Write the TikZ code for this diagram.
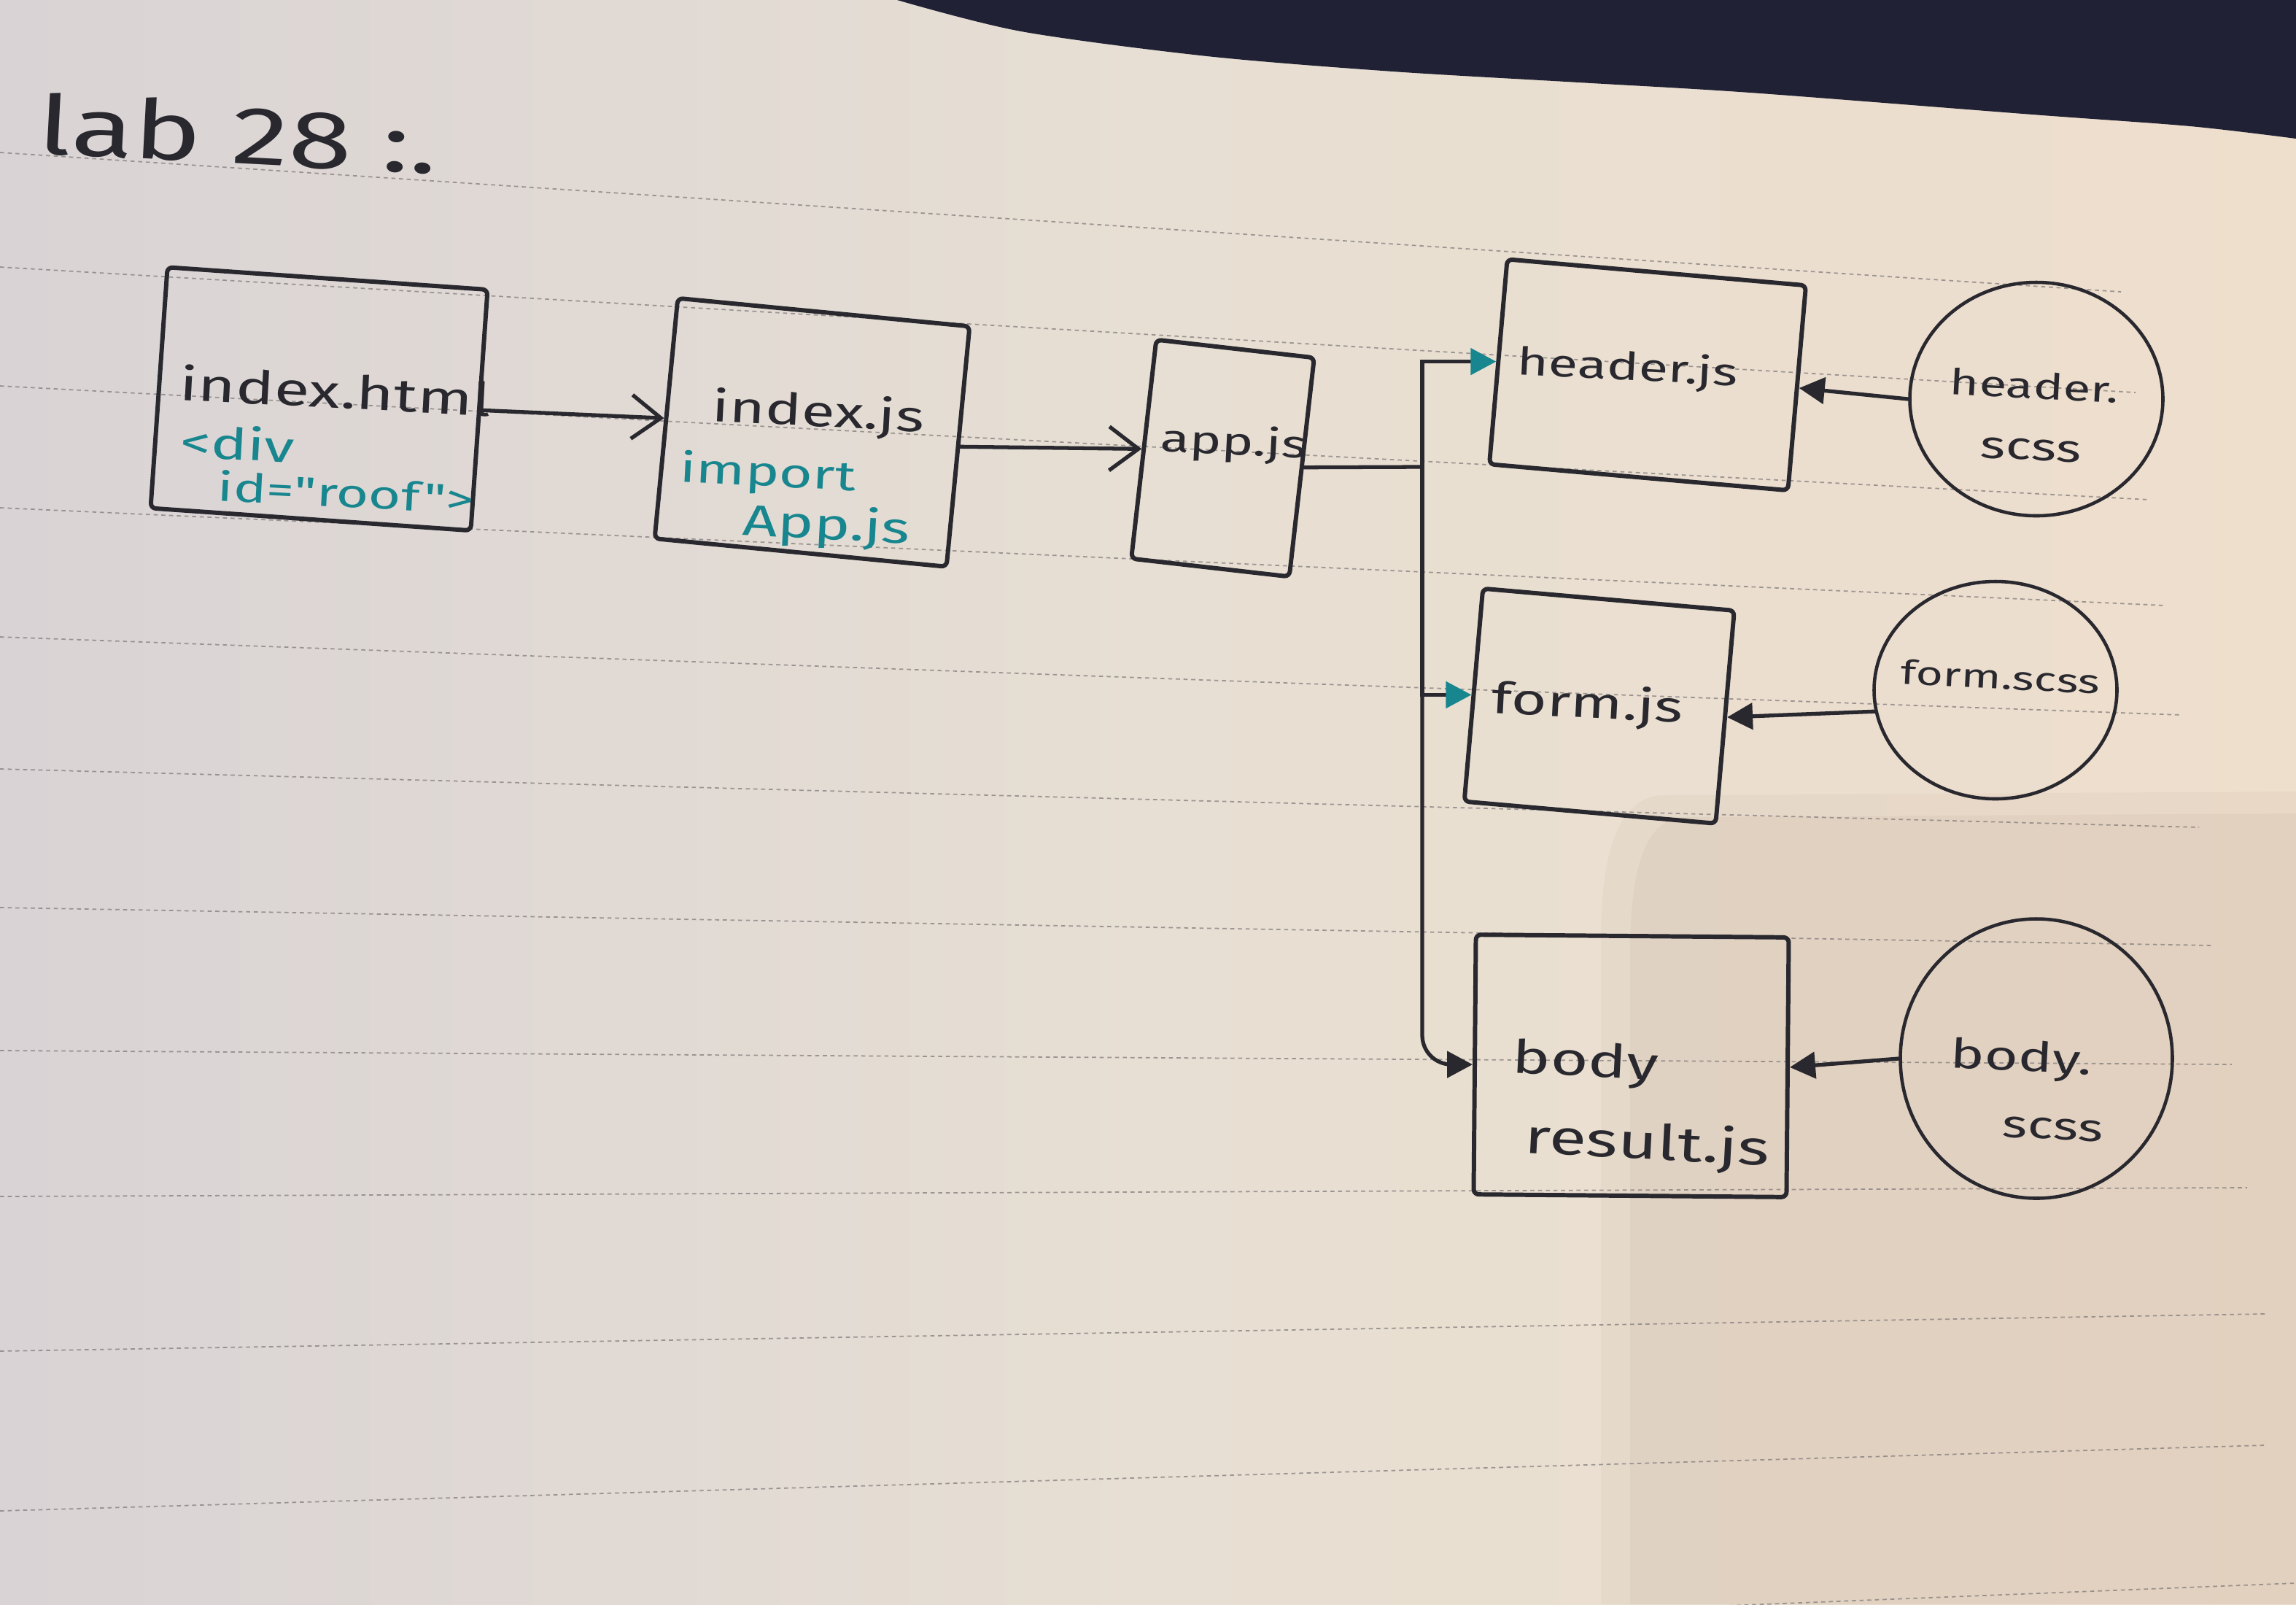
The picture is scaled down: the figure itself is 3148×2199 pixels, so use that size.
\documentclass[tikz,border=0pt]{standalone}
\usepackage{fontspec}
\newfontfamily\handfont[FakeStretch=1.4]{Fira Sans}
\usetikzlibrary{arrows.meta,shapes.geometric}
\definecolor{inkc}{RGB}{40,40,46}
\definecolor{tealc}{RGB}{24,134,142}
\definecolor{paperL}{RGB}{217,211,213}
\definecolor{paperM}{RGB}{231,223,211}
\definecolor{paperR}{RGB}{238,222,204}
\definecolor{darkc}{RGB}{32,33,52}
\definecolor{rulec}{RGB}{130,124,124}
\tikzset{
  jsbox/.style={draw=inkc, line width=1.7pt, line join=round, rectangle, inner sep=0pt, rounded corners=2pt},
  scssnode/.style={draw=inkc, line width=1.3pt, ellipse, inner sep=0pt},
  hand/.style={text=inkc, inner sep=0pt, anchor=base west, rotate=-3},
  tealtxt/.style={hand, text=tealc},
  hs/.style={font=\handfont\fontsize{#1}{#1}\selectfont},
  conn/.style={draw=inkc, line width=1.5pt, line cap=round},
  barb/.style={conn, -{Straight Barb[length=4mm,width=6mm]}},
  tealhead/.style={conn, -{Triangle[length=3.5mm,width=3.6mm,color=tealc]}},
  blackhead/.style={conn, -{Triangle[length=3.5mm,width=3.6mm]}},
  ruling/.style={draw=rulec, line width=0.5pt, dash pattern=on 1.6pt off 1.4pt, opacity=0.75}
}
\begin{document}
\begin{tikzpicture}[x=0.1mm, y=-0.1mm]
\useasboundingbox (0,0) rectangle (3148,2199);
% paper
\begin{scope}
\clip (0,0) rectangle (3148,2199);
\shade[left color=paperL, right color=paperR, middle color=paperM] (0,0) rectangle (3148,2199);
\fill[brown!60!black, opacity=0.035] (2280,1090) -- (3148,1085) -- (3148,2199) -- (2195,2199) -- (2195,1290) .. controls (2195,1165) and (2220,1092) .. (2280,1090) -- cycle;
\fill[brown!60!black, opacity=0.045] (2310,1120) -- (3148,1115) -- (3148,2199) -- (2235,2199) -- (2235,1310) .. controls (2235,1190) and (2255,1122) .. (2310,1120) -- cycle;
\fill[darkc] (1230,0) -- plot[smooth] coordinates {(1230,0) (1400,43) (1655,77) (1910,98) (2165,113) (2400,127) (2787,157) (3003,173) (3148,190)} -- (3148,0) -- cycle;
% ruled lines
\draw[ruling] (0,209) -- (2908,400);
\draw[ruling] (0,366) -- (2928,538);
\draw[ruling] (0,529) -- (2948,685);
\draw[ruling] (0,696) -- (2970,830);
\draw[ruling] (0,873) -- (2991,980);
\draw[ruling] (0,1054) -- (3015,1134);
\draw[ruling] (0,1244) -- (3036,1296);
\draw[ruling] (0,1440) -- (3060,1459);
\draw[ruling] (0,1640) -- (3081,1628);
\draw[ruling] (0,1852) -- (3105,1801);
\draw[ruling] (0,2071) -- (3106,1981);
\draw[ruling] (0,2295) -- (3148,2170);
\end{scope}

% title
\node[hand, hs=32pt] (title) at (50,210) {lab 28 :.};

% boxes
\node[jsbox, minimum width=44mm, minimum height=33.1mm, rotate=-4] (html) at (437.5,546.75) {};
\node[jsbox, minimum width=40.2mm, minimum height=33.1mm, rotate=-5.5] (ijs) at (1113.5,592.75) {};
\node[jsbox, minimum width=21.8mm, minimum height=30.2mm, rotate=-6.5] (app) at (1676.5,628) {};
\node[jsbox, minimum width=41.1mm, minimum height=28.2mm, rotate=-5] (hjs) at (2259,513.75) {};
\node[jsbox, minimum width=34.6mm, minimum height=29.3mm, rotate=-5] (fjs) at (2192.75,967.75) {};
\node[jsbox, minimum width=42.9mm, minimum height=35.6mm, rotate=-0.5] (bjs) at (2236.5,1461) {};
\node[scssnode, minimum width=34.7mm, minimum height=32mm] (hscss) at (2792,547) {};
\node[scssnode, minimum width=33.3mm, minimum height=29.8mm] (fscss) at (2736,946) {};
\node[scssnode, minimum width=37.3mm, minimum height=38.3mm] (bscss) at (2792,1451) {};

% texts
\node[hand, hs=18pt] (thtml) at (245,548) {index.html};
\node[tealtxt, hs=17pt] (tdiv) at (246,626) {<div};
\node[tealtxt, hs=15.5pt] (troot) at (297,686) {id="roof">};
\node[hand, hs=17pt] (tijs) at (975,577) {index.js};
\node[tealtxt, hs=16pt] (timport) at (931,660) {import};
\node[tealtxt, hs=17pt] (tappimp) at (1017,733) {App.js};
\node[hand, hs=15pt] (tapp) at (1590,618) {app.js};
\node[hand, hs=15pt] (thjs) at (2079,513) {header.js};
\node[hand, hs=14pt] (thscss1) at (2672,540) {header.};
\node[hand, hs=15pt] (thscss2) at (2714,627) {scss};
\node[hand, hs=17pt] (tfjs) at (2044,977) {form.js};
\node[hand, hs=13pt] (tfscss) at (2605,937) {form.scss};
\node[hand, hs=18pt] (tbody) at (2072,1470) {body};
\node[hand, hs=19pt] (tresult) at (2089,1580) {result.js};
\node[hand, hs=16pt] (tbscss1) at (2673,1463) {body.};
\node[hand, hs=15pt] (tbscss2) at (2744,1558) {scss};

% connectors
\coordinate (trunk) at (1950,640);
\draw[barb] (html.east) -- (ijs.west);
\draw[barb] (ijs.east) -- (app.west);
\draw[conn] (app.east) -- (trunk);
\draw[tealhead] (trunk) |- (hjs.west);
\draw[tealhead] (trunk) |- (fjs.west);
\draw[blackhead, rounded corners=4mm] (trunk) |- (bjs.west);
\draw[blackhead] (hscss.west) -- (hjs.east);
\draw[blackhead] (fscss.190) -- (fjs.east);
\draw[blackhead] (bscss.west) -- (bjs.east);
\end{tikzpicture}
\end{document}
